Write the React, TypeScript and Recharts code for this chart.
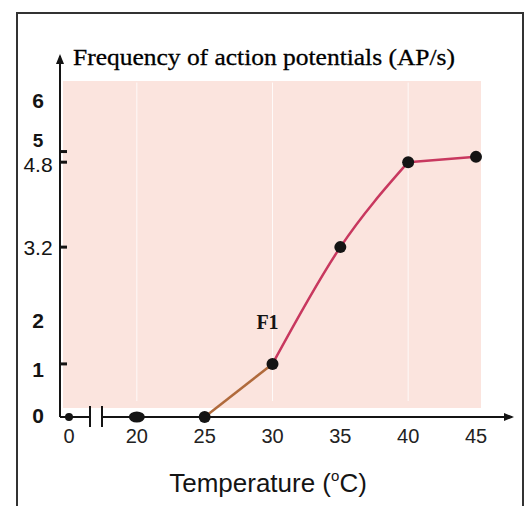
import { LineChart, Line, XAxis, YAxis, ReferenceLine, ReferenceDot } from 'recharts';

const temperatures = ['0', '20', '25', '30', '35', '40', '45'];
const frequency = [0, 0, 0, 1, 3.2, 4.8, 4.9];
const yTicks = [0, 1, 2, 3.2, 4.8, 5, 6];
const markedTicks = [1, 3.2, 4.8, 5];
const gridTemps = ['20', '30', '40'];

// brown part runs 25 -> 30, pink curve 30 -> 40, then a short straight bit to 45
const i25 = temperatures.indexOf('25');
const i30 = temperatures.indexOf('30');
const i40 = temperatures.indexOf('40');

const data = temperatures.map((t, i) => ({
  temp: t,
  frequency: frequency[i],
  rise: i >= i25 && i <= i30 ? frequency[i] : null,
  climb: i >= i30 && i <= i40 ? frequency[i] : null,
  plateau: i >= i40 ? frequency[i] : null,
}));

const INK = '#141414';
const PINK = '#c8385f';
const SANS = '"Liberation Sans", Arial, sans-serif';
const SERIF = '"Liberation Serif", "Times New Roman", serif';

// the printed axis is hand drawn, labels sit a little off the linear positions
const labelNudge: Record<number, number> = { 6: 2, 5: -12, 4.8: 2, 2: 9, 1: 5, 0: -2 };

function YTick({ x, y, payload }: any) {
  const v = payload.value as number;
  const whole = Number.isInteger(v);
  return (
    <g>
      <text
        x={x - 22}
        y={y + (labelNudge[v] ?? 0)}
        dy={v === 5 ? 7 : 8}
        textAnchor="middle"
        fontFamily={SANS}
        fontSize={v === 5 ? 19 : 21}
        fontWeight={whole ? 'bold' : 'normal'}
        fill={INK}
      >
        {v}
      </text>
      {markedTicks.includes(v) && (
        <line x1={x} x2={x + 7} y1={y} y2={y} stroke={INK} strokeWidth={3} />
      )}
    </g>
  );
}

function XTick({ x, y, payload, index }: any) {
  return (
    <g>
      {index === 0 && (
        <g>
          <rect x={x + 22} y={y - 3} width={10} height={6} fill="#fff" />
          <line x1={x + 21} x2={x + 21} y1={y - 11} y2={y + 10} stroke={INK} strokeWidth={2} />
          <line x1={x + 33} x2={x + 33} y1={y - 11} y2={y + 10} stroke={INK} strokeWidth={2} />
        </g>
      )}
      <text x={x} y={y} dy={26} textAnchor="middle" fontFamily={SANS} fontSize={20} fill="#222">
        {payload.value}
      </text>
    </g>
  );
}

function PointDot({ cx, cy, index }: any) {
  if (cx == null || cy == null) return null;
  if (index === 1) return <ellipse key={index} cx={cx} cy={cy} rx={8} ry={5.5} fill={INK} />;
  return <circle key={index} cx={cx} cy={cy} r={index === 0 ? 4 : 6} fill={INK} />;
}

export default function App() {
  return (
    <div style={{ position: 'absolute', left: 0, top: 0, width: 531, height: 506, background: '#fff', overflow: 'hidden' }}>
      <div
        style={{
          position: 'absolute',
          left: 16,
          top: 12,
          width: 508,
          height: 520,
          border: '2px solid #333',
          boxSizing: 'border-box',
        }}
      />
      <div style={{ position: 'absolute', left: 63, top: 81, width: 418, height: 327, background: '#fbe4de' }} />
      <div style={{ position: 'absolute', left: 0, top: 0 }}>
        <LineChart width={531} height={506} data={data} margin={{ top: 56, right: 19, left: 20, bottom: 59 }}>
          <defs>
            <marker
              id="axisArrow"
              viewBox="0 0 10 10"
              refX="8"
              refY="5"
              markerWidth="5"
              markerHeight="5"
              orient="auto-start-reverse"
            >
              <path d="M0,1 L10,5 L0,9 z" fill={INK} />
            </marker>
          </defs>
          {gridTemps.map((t) => (
            <ReferenceLine
              key={t}
              segment={[
                { x: t, y: 0.3 },
                { x: t, y: 6.3 },
              ]}
              stroke="#ffffff"
              strokeOpacity={0.8}
            />
          ))}
          <XAxis
            dataKey="temp"
            type="category"
            height={30}
            padding={{ left: 9, right: 36 }}
            tickSize={0}
            tickMargin={0}
            tick={<XTick />}
            axisLine={{ stroke: INK, strokeWidth: 2, markerEnd: 'url(#axisArrow)' }}
            label={{
              content: () => (
                <text x={268} y={492} textAnchor="middle" fontFamily={SANS} fontSize={26} fill={INK}>
                  Temperature (
                  <tspan dy={-11} fontSize={15}>o</tspan>
                  <tspan dy={11}>C)</tspan>
                </text>
              ),
            }}
          />
          <YAxis
            type="number"
            domain={[0, 6.8]}
            ticks={yTicks}
            interval={0}
            width={40}
            tickSize={0}
            tickMargin={0}
            tick={<YTick />}
            axisLine={{ stroke: INK, strokeWidth: 2, markerStart: 'url(#axisArrow)' }}
            label={{
              content: () => (
                <text
                  x={73}
                  y={65}
                  fontFamily={SERIF}
                  fontSize={24}
                  textLength={382}
                  lengthAdjust="spacingAndGlyphs"
                  fill="#000"
                  stroke="#000"
                  strokeWidth={0.3}
                >
                  Frequency of action potentials (AP/s)
                </text>
              ),
            }}
          />
          <Line
            dataKey="rise"
            type="linear"
            stroke="#b06a3c"
            strokeWidth={2.5}
            dot={false}
            activeDot={false}
            isAnimationActive={false}
          />
          <Line
            dataKey="climb"
            type="monotone"
            stroke={PINK}
            strokeWidth={2.5}
            dot={false}
            activeDot={false}
            isAnimationActive={false}
          />
          <Line
            dataKey="plateau"
            type="linear"
            stroke={PINK}
            strokeWidth={2.5}
            dot={false}
            activeDot={false}
            isAnimationActive={false}
          />
          <Line
            dataKey="frequency"
            stroke="none"
            dot={<PointDot />}
            activeDot={false}
            isAnimationActive={false}
          />
          <ReferenceDot
            x="30"
            y={1.8}
            r={0}
            label={{
              value: 'F1',
              position: 'center',
              dx: -5,
              fill: INK,
              fontSize: 20,
              fontWeight: 'bold',
              fontFamily: SERIF,
            }}
          />
        </LineChart>
      </div>
    </div>
  );
}
